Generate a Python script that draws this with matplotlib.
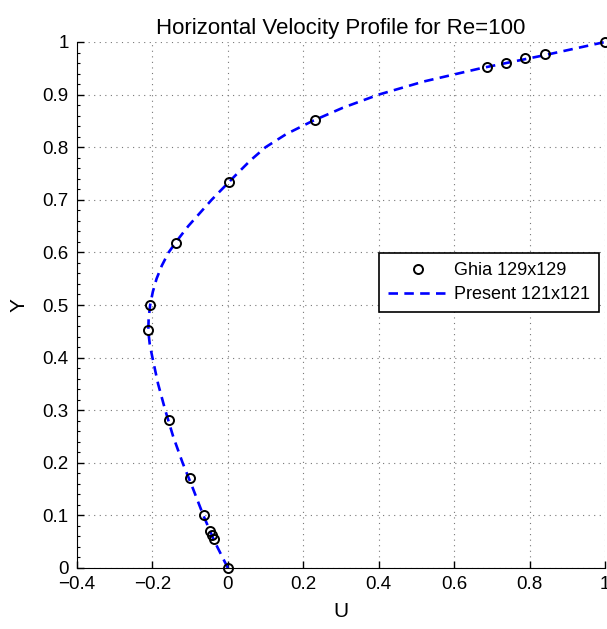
import numpy as np
import matplotlib.pyplot as plt
from matplotlib.ticker import AutoMinorLocator

plt.rcParams['font.family'] = ['Liberation Sans', 'DejaVu Sans']

# Ghia et al. (1982), Re=100, u along vertical centreline
ghia_y = [1.0000, 0.9766, 0.9688, 0.9609, 0.9531, 0.8516, 0.7344, 0.6172, 0.5000,
          0.4531, 0.2813, 0.1719, 0.1016, 0.0703, 0.0625, 0.0547, 0.0000]
ghia_u = [1.00000, 0.84123, 0.78871, 0.73722, 0.68717, 0.23151, 0.00332, -0.13641,
          -0.20581, -0.21090, -0.15662, -0.10150, -0.06434, -0.04775, -0.04192,
          -0.03717, 0.00000]

# present solution
pres_y = [0.0, 0.05, 0.1, 0.15, 0.2, 0.25, 0.3, 0.35, 0.4, 0.425, 0.45, 0.475,
          0.5, 0.525, 0.55, 0.575, 0.6, 0.625, 0.65, 0.7, 0.75, 0.775, 0.8,
          0.825, 0.85, 0.875, 0.9, 0.925, 0.95, 0.9625, 0.975, 0.9875, 1.0]
pres_u = [0.0, -0.035, -0.065, -0.092, -0.12, -0.145, -0.166, -0.185, -0.200,
          -0.207, -0.211, -0.210, -0.206, -0.199, -0.189, -0.175, -0.157,
          -0.132, -0.105, -0.043, 0.025, 0.060, 0.100, 0.155, 0.225, 0.305,
          0.40, 0.52, 0.67, 0.755, 0.84, 0.92, 1.0]

xticks = [-0.4, -0.2, 0, 0.2, 0.4, 0.6, 0.8, 1]
xlabels = ['\u22120.4', '\u22120.2', '0', '0.2', '0.4', '0.6', '0.8', '1']
yticks = [0, 0.1, 0.2, 0.3, 0.4, 0.5, 0.6, 0.7, 0.8, 0.9, 1]
ylabels = ['0', '0.1', '0.2', '0.3', '0.4', '0.5', '0.6', '0.7', '0.8', '0.9', '1']

fig = plt.figure(figsize=(6.07, 6.29), dpi=100)
ax = fig.add_axes([77/607, 1-568/629, 528/607, 526/629])

ax.plot(ghia_u, ghia_y, 'o', mfc='none', mec='black', ms=6.5, mew=1.4,
        label='Ghia 129x129', zorder=3, clip_on=False)
ax.plot(pres_u, pres_y, '--', color='blue', lw=1.9, dashes=(3.6, 2.4),
        label='Present 121x121', zorder=2, clip_on=False)

ax.set_xlim(-0.4, 1)
ax.set_ylim(0, 1)
ax.set_xticks(xticks)
ax.set_xticklabels(xlabels)
ax.set_yticks(yticks)
ax.set_yticklabels(ylabels)
ax.yaxis.set_minor_locator(AutoMinorLocator(5))
ax.tick_params(which='both', direction='in', labelsize=13.5, top=False, right=False)
ax.tick_params(which='major', length=5, width=1, pad=6)
ax.tick_params(which='minor', length=2.5, width=0.8)
ax.spines['top'].set_visible(False)
ax.spines['right'].set_visible(False)
ax.grid(True, which='major', linestyle=(0, (1, 4)), color='#777777', lw=0.8)

ax.set_title('Horizontal Velocity Profile for Re=100', fontsize=16, pad=6)
ax.set_xlabel('U', fontsize=15, labelpad=6)
ax.set_ylabel('Y', fontsize=15, labelpad=10)

leg = ax.legend(loc='upper right', bbox_to_anchor=(599/607, 1-253/629),
                bbox_transform=fig.transFigure, fontsize=13, frameon=True,
                fancybox=False, edgecolor='black', handlelength=3.3,
                handletextpad=0.35, borderaxespad=0, labelspacing=0.4,
                borderpad=0.5, framealpha=1)
leg.get_frame().set_linewidth(1.2)

fig.savefig('out.png', dpi=100)
